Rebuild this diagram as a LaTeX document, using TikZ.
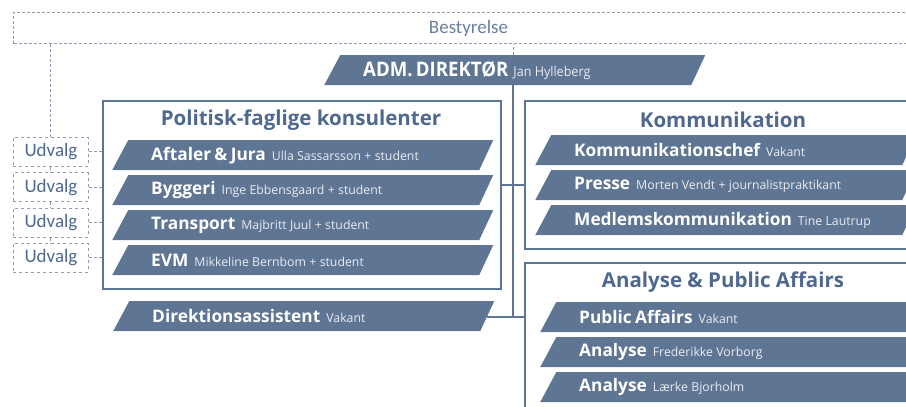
\documentclass[tikz,border=0pt]{standalone}
\usepackage{fontspec}
\setmainfont{Open Sans}
\newfontfamily\calfont{Carlito}
\newfontfamily\condfont[FakeStretch=0.93]{Open Sans}
\usepackage{tikz}
\usetikzlibrary{calc}

\definecolor{barblue}{HTML}{5F7594}
\definecolor{titleblue}{HTML}{4F6890}
\definecolor{linegrey}{HTML}{8E9DB3}
\definecolor{namewhite}{HTML}{E9EDF3}

\tikzset{
  orgbar/.style={anchor=north west, minimum width=381pt, minimum height=30pt,
    inner sep=0pt, text width=381pt, align=left, text=white,
    path picture={\fill[barblue] (path picture bounding box.south west)
      -- ([xshift=16pt]path picture bounding box.north west)
      -- (path picture bounding box.north east)
      -- ([xshift=-14pt]path picture bounding box.south east) -- cycle;}},
  groupbox/.style={anchor=north west, draw=barblue, line width=2.4pt, inner sep=0pt},
  grouptitle/.style={text=titleblue, font=\fontsize{20.5}{22}\selectfont\bfseries},
  udvalgbox/.style={anchor=north west, draw=linegrey, dashed, line width=0.9pt,
    minimum width=75pt, minimum height=29pt, inner sep=0pt, text=titleblue,
    font=\calfont\fontsize{19}{21}\selectfont},
  dashline/.style={draw=linegrey, line width=1pt, dash pattern=on 3pt off 2pt},
  trunk/.style={draw=barblue, line width=2.4pt},
}

% head and person text of a bar
\newcommand{\barlabel}[2]{\hspace*{39pt}{\fontsize{17.3}{19}\selectfont\bfseries #1}\hspace{6pt}{\color{namewhite}\fontsize{12.3}{14}\selectfont #2}}

\begin{document}
\begin{tikzpicture}[x=1pt, y=-1pt]
  \useasboundingbox (0,0) rectangle (906,407);
  \clip (0,0) rectangle (906,407);

  % top
  \node[anchor=north west, draw=linegrey, line width=1pt, dash pattern=on 3pt off 2pt,
    minimum width=910pt, minimum height=31pt, inner sep=0pt, text=titleblue!85,
    font=\calfont\fontsize{19}{21}\selectfont] (bestyrelse) at (13,12) {Bestyrelse};

  \node[orgbar] (adm) at (324,55) {\hspace*{39pt}{\condfont\fontsize{20}{22}\selectfont\bfseries ADM. DIREKT\O R}\hspace{5pt}{\condfont\color{namewhite}\fontsize{13.5}{15}\selectfont Jan Hylleberg}};

  % group boxes
  \node[groupbox, minimum width=398pt, minimum height=188pt] (pol) at (102,100) {};
  \node[groupbox, minimum width=398pt, minimum height=148pt] (komm) at (524,100) {};
  \node[groupbox, minimum width=398pt, minimum height=180pt] (ana) at (524,262) {};

  \node[grouptitle] (pol-title) at (301,120) {Politisk-faglige konsulenter};
  \node[grouptitle] (komm-title) at (723,120) {Kommunikation};
  \node[grouptitle] (ana-title) at (723,282) {Analyse \& Public Affairs};

  % bars
  \node[orgbar] (aftaler) at (112,140) {\barlabel{Aftaler \& Jura}{Ulla Sassarsson + student}};
  \node[orgbar] (byggeri) at (112,175) {\barlabel{Byggeri}{Inge Ebbensgaard + student}};
  \node[orgbar] (transport) at (112,210) {\barlabel{Transport}{Majbritt Juul + student}};
  \node[orgbar] (evm) at (112,245) {\barlabel{EVM}{Mikkeline Bernbom + student}};
  \node[orgbar] (dir) at (113,301) {\barlabel{Direktionsassistent}{Vakant}};

  \node[orgbar] (kchef) at (535,135) {\barlabel{Kommunikationschef}{Vakant}};
  \node[orgbar] (presse) at (535,170) {\barlabel{Presse}{Morten Vendt + journalistpraktikant}};
  \node[orgbar] (medlem) at (535,205) {\barlabel{Medlemskommunikation}{Tine Lautrup}};

  \node[orgbar] (pa) at (540,302) {\barlabel{Public Affairs}{Vakant}};
  \node[orgbar] (analyse1) at (540,337) {\barlabel{Analyse}{Frederikke Vorborg}};
  \node[orgbar] (analyse2) at (540,372) {\barlabel{Analyse}{L\ae rke Bjorholm}};

  % udvalg
  \foreach \i in {1,...,4}
    \node[udvalgbox] (udvalg\i) at (13,{137+35.3*(\i-1)}) {Udvalg};

  % connectors
  \coordinate (hub) at (513,185);
  \coordinate (foot) at (513,317);

  \draw[dashline] (adm.north -| hub) -- (hub |- bestyrelse.south);
  \draw[dashline] (udvalg1.north) -- (udvalg1.north |- bestyrelse.south);
  \draw[dashline] (udvalg1.south) -- (udvalg2.north);
  \draw[dashline] (udvalg2.south) -- (udvalg3.north);
  \draw[dashline] (udvalg3.south) -- (udvalg4.north);
  \foreach \i in {1,...,4}
    \draw[dashline] (udvalg\i.east) -- (udvalg\i.east -| pol.west);

  \draw[trunk] (adm.south -| hub) -- (foot);
  \draw[trunk] (pol.east |- hub) -- (komm.west |- hub);
  \draw[trunk] ([xshift=-7pt]dir.east |- foot) -- (ana.west |- foot);
\end{tikzpicture}
\end{document}
